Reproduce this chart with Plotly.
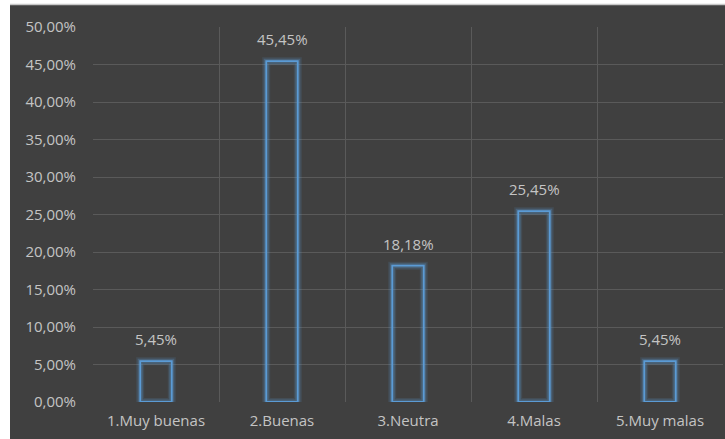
import plotly.graph_objects as go

categories = ["1.Muy buenas", "2.Buenas", "3.Neutra", "4.Malas", "5.Muy malas"]
shares = [0.0545, 0.4545, 0.1818, 0.2545, 0.0545]
y_ticks = [0, 0.05, 0.10, 0.15, 0.20, 0.25, 0.30, 0.35, 0.40, 0.45, 0.50]

BG = "#404040"
GRID = "#5a5a5a"
BLUE = "#5b9bd5"
TEXT = "#c4c4c4"
FONT = "'Open Sans', 'Noto Sans', sans-serif"
SIZE = 15

fig = go.Figure()

# soft halo behind the outlined bars (two widths for a feathered edge)
for halo_width, halo_alpha in [(8, 0.14), (5, 0.28)]:
    fig.add_trace(go.Bar(
        x=categories, y=shares, width=0.25,
        marker=dict(color="rgba(0,0,0,0)",
                    line=dict(color=f"rgba(91,155,213,{halo_alpha})", width=halo_width)),
        hoverinfo="skip", showlegend=False,
    ))
# outlined bars
fig.add_trace(go.Bar(
    x=categories, y=shares, width=0.25,
    marker=dict(color="rgba(0,0,0,0)", line=dict(color=BLUE, width=1.8)),
    showlegend=False,
))

# value labels above each bar
annotations = [
    dict(x=c, y=v, xref="x", yref="y", text=f"{v * 100:.2f}%".replace(".", ","),
         showarrow=False, yanchor="middle", yshift=22,
         font=dict(color=TEXT, size=SIZE, family=FONT))
    for c, v in zip(categories, shares)
]

fig.update_layout(
    width=725, height=439,
    margin=dict(l=93, r=2, t=27, b=37),
    paper_bgcolor="white",
    plot_bgcolor=BG,
    separators=",.",
    barmode="overlay",
    font=dict(family=FONT, color=TEXT, size=SIZE),
    annotations=annotations,
    shapes=[
        # dark card behind the whole chart
        dict(type="rect", xref="paper", yref="paper", layer="below",
             x0=-83 / 630, x1=1 + 2 / 630, y0=-37 / 375, y1=1 + 22 / 375,
             fillcolor=BG, line=dict(width=0)),
        dict(type="line", xref="paper", yref="paper", layer="below",
             x0=-83 / 630, x1=1 + 2 / 630, y0=1 + 22.5 / 375, y1=1 + 22.5 / 375,
             line=dict(color="#c8c8c8", width=1.5)),
    ],
)

fig.update_xaxes(
    type="category", tickson="boundaries", showgrid=True, gridcolor=GRID, gridwidth=1,
    ticks="", zeroline=False, showline=False, ticklabelstandoff=8,
    tickfont=dict(color=TEXT, size=SIZE, family=FONT),
)
fig.update_yaxes(
    range=[0, 0.5], tickvals=y_ticks, tickformat=".2%",
    showgrid=True, gridcolor=GRID, gridwidth=1, zeroline=False, showline=False,
    ticks="", ticklabelstandoff=16,
    tickfont=dict(color=TEXT, size=SIZE, family=FONT),
)

fig.write_html("out.html")
